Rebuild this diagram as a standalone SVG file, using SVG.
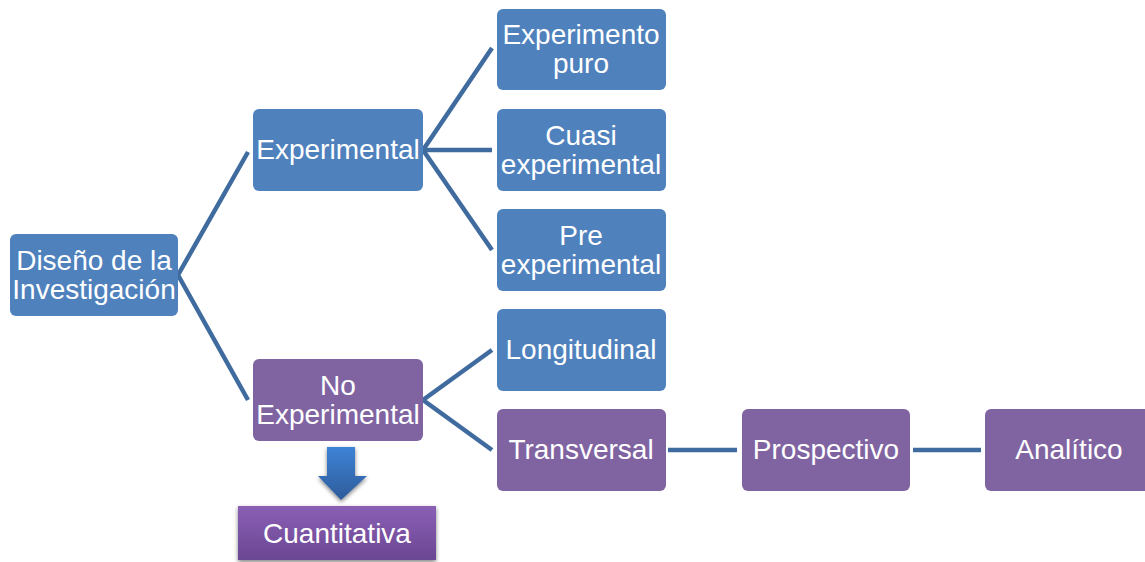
<svg xmlns="http://www.w3.org/2000/svg" width="1145" height="562" viewBox="0 0 1145 562">
<defs>
<style>
.b{fill:#4f81bd}
.p{fill:#8064a2}
.t{font-family:"Liberation Sans",Arial,sans-serif;font-size:28px;fill:#ffffff;text-anchor:middle}
.c{stroke:#3f6b9f;stroke-width:4.5;fill:none}
</style>
<linearGradient id="ga" x1="0" y1="0" x2="0" y2="1">
<stop offset="0" stop-color="#3f83d6"/>
<stop offset="1" stop-color="#2d5c9a"/>
</linearGradient>
<linearGradient id="gc" x1="0" y1="0" x2="0" y2="1">
<stop offset="0" stop-color="#8a5fb5"/>
<stop offset="1" stop-color="#6b4793"/>
</linearGradient>
<filter id="sh" x="-10%" y="-20%" width="120%" height="150%">
<feGaussianBlur in="SourceAlpha" stdDeviation="2"/>
<feOffset dx="0" dy="2"/>
<feComponentTransfer><feFuncA type="linear" slope="0.5"/></feComponentTransfer>
<feMerge><feMergeNode/><feMergeNode in="SourceGraphic"/></feMerge>
</filter>
</defs>
<rect width="1145" height="562" fill="#ffffff"/>
<g id="connectors">
<polyline class="c" points="248,152 178,275 248,400"/>
<polyline class="c" points="492,48 423,150 492,250"/>
<line class="c" x1="423" y1="150" x2="492" y2="150"/>
<polyline class="c" points="492,350 423,400 492,450"/>
<line class="c" x1="668" y1="450" x2="737" y2="450"/>
<line class="c" x1="913" y1="450" x2="981" y2="450"/>
</g>
<g id="n-diseno"><rect class="b" x="10" y="234" width="168" height="82" rx="6"/><text class="t" x="94" y="270">Diseño de la</text><text class="t" x="94" y="299">Investigación</text></g>
<g id="n-experimental"><rect class="b" x="253" y="109" width="170" height="82" rx="6"/><text class="t" x="338" y="159">Experimental</text></g>
<g id="n-noexp"><rect class="p" x="253" y="359" width="170" height="82" rx="6"/><text class="t" x="338" y="395">No</text><text class="t" x="338" y="424">Experimental</text></g>
<g id="n-puro"><rect class="b" x="497" y="9" width="169" height="81" rx="6"/><text class="t" x="581" y="44">Experimento</text><text class="t" x="581" y="73">puro</text></g>
<g id="n-cuasi"><rect class="b" x="497" y="109" width="169" height="82" rx="6"/><text class="t" x="581" y="145">Cuasi</text><text class="t" x="581" y="174">experimental</text></g>
<g id="n-pre"><rect class="b" x="497" y="209" width="169" height="82" rx="6"/><text class="t" x="581" y="245">Pre</text><text class="t" x="581" y="274">experimental</text></g>
<g id="n-long"><rect class="b" x="497" y="309" width="169" height="82" rx="6"/><text class="t" x="581" y="359">Longitudinal</text></g>
<g id="n-trans"><rect class="p" x="497" y="409" width="169" height="82" rx="6"/><text class="t" x="581" y="459">Transversal</text></g>
<g id="n-prosp"><rect class="p" x="742" y="409" width="168" height="82" rx="6"/><text class="t" x="826" y="459">Prospectivo</text></g>
<g id="n-anal"><rect class="p" x="985" y="409" width="170" height="82" rx="6"/><text class="t" x="1069" y="459">Analítico</text></g>
<g id="n-arrow"><polygon fill="url(#ga)" filter="url(#sh)" points="327,447 355,447 355,476 367,476 341,500 318,476 327,476"/></g>
<g id="n-cuanti"><rect fill="url(#gc)" filter="url(#sh)" x="238" y="506" width="198" height="54"/><text class="t" x="337" y="543">Cuantitativa</text></g>
</svg>
